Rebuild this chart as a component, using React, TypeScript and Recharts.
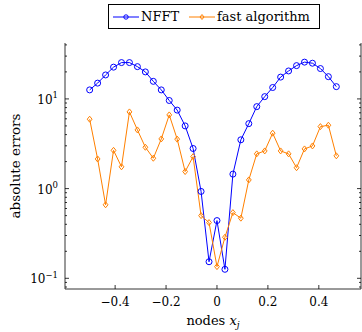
import React from "react";
import { LineChart, Line, XAxis, YAxis, Legend } from "recharts";

// nodes x_j
const nodes = [
  -0.5, -0.46875, -0.4375, -0.40625, -0.375, -0.34375, -0.3125, -0.28125,
  -0.25, -0.21875, -0.1875, -0.15625, -0.125, -0.09375, -0.0625, -0.03125,
  0, 0.03125, 0.0625, 0.09375, 0.125, 0.15625, 0.1875, 0.21875,
  0.25, 0.28125, 0.3125, 0.34375, 0.375, 0.40625, 0.4375, 0.46875,
];

const nfftErrors = [
  12.6, 15.0, 18.5, 22.6, 25.4, 25.4, 22.9, 20.0, 15.7, 12.6, 9.6, 7.5, 5.0, 2.8, 0.93, 0.153,
  0.44, 0.126, 1.45, 3.5, 5.3, 8.2, 10.6, 13.4, 17.5, 20.5, 23.5, 25.7, 25.0, 21.8, 17.7, 13.7,
];

const fastErrors = [
  5.94, 2.14, 0.66, 2.67, 1.75, 7.16, 4.51, 2.89, 2.18, 3.58, 6.63, 3.56, 1.55, 2.27, 0.5, 0.418,
  0.135, 0.287, 0.54, 0.468, 1.25, 2.44, 2.63, 4.15, 2.63, 2.44, 1.71, 2.77, 2.99, 4.91, 5.09, 2.32,
];

const xTicks = [-0.4, -0.2, 0, 0.2, 0.4];
const yTicks = [
  0.08, 0.09, 0.1, 0.2, 0.3, 0.4, 0.5, 0.6, 0.7, 0.8, 0.9, 1, 2, 3, 4, 5, 6, 7, 8, 9, 10, 20, 30, 40,
];

const data = nodes.map((x, i) => ({ x, nfft: nfftErrors[i], fast: fastErrors[i] }));

const FONT = "DejaVu Serif";
const BLUE = "#0000ff";
const ORANGE = "#ff8000";

const isMajor = (v: number) => Math.abs(Math.log10(v) - Math.round(Math.log10(v))) < 1e-9;

const fmtX = (v: number) => (v === 0 ? "0" : v.toFixed(1).replace("-", "\u2212"));

const BottomTick = (props: any) => {
  const { x, y, payload } = props;
  return (
    <g>
      <line x1={x} x2={x} y1={y} y2={y - 4} stroke="#000" strokeWidth={0.8} />
      <text x={x} y={y + 17} textAnchor="middle" fontFamily={FONT} fontSize={12} fill="#000">
        {fmtX(payload.value)}
      </text>
    </g>
  );
};

const TopTick = (props: any) => {
  const { x, y } = props;
  return <line x1={x} x2={x} y1={y} y2={y + 4} stroke="#000" strokeWidth={0.8} />;
};

const LeftTick = (props: any) => {
  const { x, y, payload } = props;
  const major = isMajor(payload.value);
  const exp = Math.round(Math.log10(payload.value));
  return (
    <g>
      <line x1={x} x2={x + (major ? 4 : 2)} y1={y} y2={y} stroke="#000" strokeWidth={0.8} />
      {major && (
        <text x={x - 7} y={y + 5} textAnchor="end" fontFamily={FONT} fontSize={12} fill="#000">
          10
          <tspan dy={-5.5} fontSize={8.5}>
            {exp < 0 ? "\u2212" + Math.abs(exp) : String(exp)}
          </tspan>
        </text>
      )}
    </g>
  );
};

const RightTick = (props: any) => {
  const { x, y, payload } = props;
  const major = isMajor(payload.value);
  return <line x1={x} x2={x - (major ? 4 : 2)} y1={y} y2={y} stroke="#000" strokeWidth={0.8} />;
};

const XLabel = (props: any) => {
  const { viewBox } = props;
  const cx = viewBox.x + viewBox.width / 2;
  return (
    <text x={cx} y={325} textAnchor="middle" fontFamily={FONT} fontSize={13} fill="#000">
      nodes{" "}
      <tspan fontStyle="italic">x</tspan>
      <tspan fontStyle="italic" fontSize={9} dy={3}>
        j
      </tspan>
    </text>
  );
};

const YLabel = (props: any) => {
  const { viewBox } = props;
  const cy = viewBox.y + viewBox.height / 2;
  return (
    <text
      x={20}
      y={cy}
      transform={`rotate(-90, 20, ${cy})`}
      textAnchor="middle"
      fontFamily={FONT}
      fontSize={13.5}
      fill="#000"
    >
      absolute errors
    </text>
  );
};

const Circle = (props: any) => {
  const { cx, cy, index } = props;
  return <circle key={`c${index}`} cx={cx} cy={cy} r={3} fill="none" stroke={BLUE} strokeWidth={1} />;
};

const Diamond = (props: any) => {
  const { cx, cy, index } = props;
  return (
    <path
      key={`d${index}`}
      d={`M${cx},${cy - 3}L${cx + 2.4},${cy}L${cx},${cy + 3}L${cx - 2.4},${cy}Z`}
      fill="none"
      stroke={ORANGE}
      strokeWidth={1}
    />
  );
};

const legendItems = [
  { name: "NFFT", color: BLUE, mark: "circle", width: 76 },
  { name: "fast algorithm", color: ORANGE, mark: "diamond", width: 122 },
];

const LegendBox = () => (
  <div
    style={{
      display: "flex",
      alignItems: "center",
      border: "1px solid #000",
      height: 23,
      width: 206,
      boxSizing: "content-box",
      padding: "0 0 0 4px",
      fontFamily: FONT,
      fontSize: 13,
      background: "#fff",
      whiteSpace: "nowrap",
    }}
  >
    {legendItems.map((it) => (
      <span key={it.name} style={{ display: "flex", alignItems: "center", width: it.width }}>
        <svg width={26} height={10}>
          <line x1={0} x2={26} y1={5} y2={5} stroke={it.color} strokeWidth={1} />
          {it.mark === "circle" ? (
            <circle cx={13} cy={5} r={2.2} fill="none" stroke={it.color} strokeWidth={1} />
          ) : (
            <path d="M13,2.5L15,5L13,7.5L11,5Z" fill="none" stroke={it.color} strokeWidth={1} />
          )}
        </svg>
        <span style={{ marginLeft: 2 }}>{it.name}</span>
      </span>
    ))}
  </div>
);

export default function App() {
  return (
    <div style={{ position: "absolute", left: 0, top: 0 }}>
      <LineChart width={362} height={332} data={data} margin={{ top: 43, right: 0, bottom: 0, left: 0 }}>
        <XAxis
          dataKey="x"
          type="number"
          domain={[-0.596875, 0.565625]}
          allowDataOverflow
          ticks={xTicks}
          height={43}
          tickSize={0}
          tickMargin={0}
          tickLine={false}
          axisLine={{ stroke: "#000", strokeWidth: 0.8 }}
          tick={<BottomTick />}
          interval={0}
          label={<XLabel />}
        />
        <XAxis
          xAxisId="top"
          dataKey="x"
          type="number"
          orientation="top"
          domain={[-0.596875, 0.565625]}
          allowDataOverflow
          ticks={xTicks}
          height={0}
          tickSize={0}
          tickMargin={0}
          tickLine={false}
          axisLine={{ stroke: "#000", strokeWidth: 0.8 }}
          tick={<TopTick />}
          interval={0}
        />
        <YAxis
          type="number"
          scale="log"
          domain={[0.076, 42]}
          allowDataOverflow
          ticks={yTicks}
          width={65}
          tickSize={0}
          tickMargin={0}
          tickLine={false}
          axisLine={{ stroke: "#000", strokeWidth: 0.8 }}
          tick={<LeftTick />}
          interval={0}
          label={<YLabel />}
        />
        <YAxis
          yAxisId="right"
          orientation="right"
          type="number"
          scale="log"
          domain={[0.076, 42]}
          allowDataOverflow
          ticks={yTicks}
          width={1}
          tickSize={0}
          tickMargin={0}
          tickLine={false}
          axisLine={{ stroke: "#000", strokeWidth: 0.8 }}
          tick={<RightTick />}
          interval={0}
        />
        <Legend
          layout="vertical"
          verticalAlign="middle"
          align="center"
          wrapperStyle={{ top: 4, left: 108, width: "auto" }}
          content={<LegendBox />}
        />
        <Line
          dataKey="nfft"
          name="NFFT"
          stroke={BLUE}
          strokeWidth={1}
          type="linear"
          dot={<Circle />}
          activeDot={false}
          isAnimationActive={false}
        />
        <Line
          dataKey="fast"
          name="fast algorithm"
          stroke={ORANGE}
          strokeWidth={1}
          type="linear"
          dot={<Diamond />}
          activeDot={false}
          isAnimationActive={false}
        />
      </LineChart>
    </div>
  );
}
